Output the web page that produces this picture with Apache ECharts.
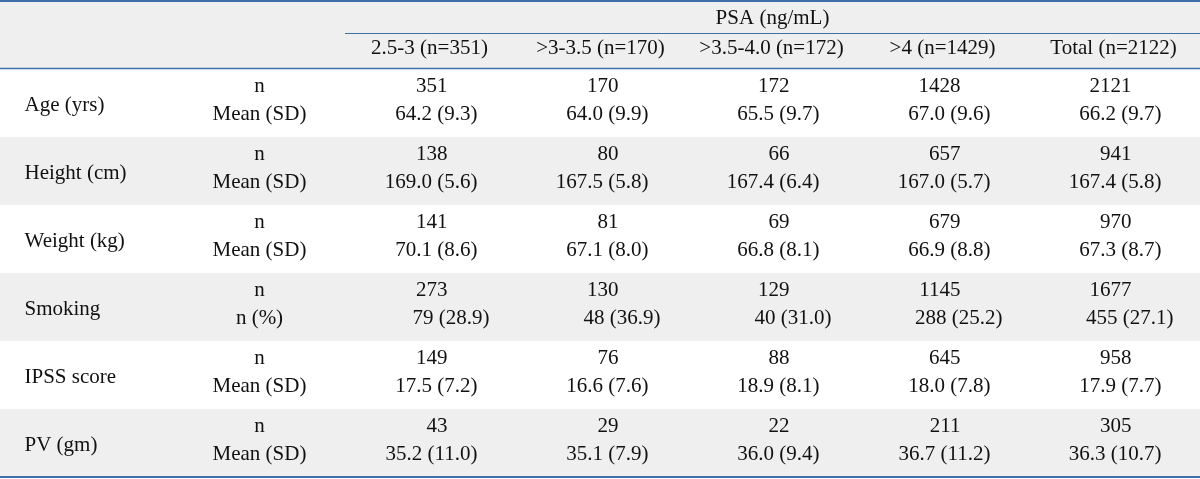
<!DOCTYPE html>
<html>
<head>
<meta charset="utf-8">
<script src="https://cdn.jsdelivr.net/npm/echarts@6/dist/echarts.min.js"></script>
<style>html,body{margin:0;padding:0;background:#fff}#c{width:1200px;height:479px}</style>
</head>
<body>
<div id="c"></div>
<script>
// ---- Table content ----
const groupTitle = 'PSA (ng/mL)';
const psaGroups = ['2.5-3 (n=351)', '>3-3.5 (n=170)', '>3.5-4.0 (n=172)', '>4 (n=1429)', 'Total (n=2122)'];
const variables = ['Age (yrs)', 'Height (cm)', 'Weight (kg)', 'Smoking', 'IPSS score', 'PV (gm)'];
const countLabels = ['n', 'n', 'n', 'n', 'n', 'n'];
const statLabels = ['Mean (SD)', 'Mean (SD)', 'Mean (SD)', 'n (%)', 'Mean (SD)', 'Mean (SD)'];

const ageN = [351, 170, 172, 1428, 2121];
const ageMean = [64.2, 64.0, 65.5, 67.0, 66.2];
const ageSD = [9.3, 9.9, 9.7, 9.6, 9.7];

const heightN = [138, 80, 66, 657, 941];
const heightMean = [169.0, 167.5, 167.4, 167.0, 167.4];
const heightSD = [5.6, 5.8, 6.4, 5.7, 5.8];

const weightN = [141, 81, 69, 679, 970];
const weightMean = [70.1, 67.1, 66.8, 66.9, 67.3];
const weightSD = [8.6, 8.0, 8.1, 8.8, 8.7];

const smokingN = [273, 130, 129, 1145, 1677];
const smokingCount = [79, 48, 40, 288, 455];
const smokingPct = [28.9, 36.9, 31.0, 25.2, 27.1];

const ipssN = [149, 76, 88, 645, 958];
const ipssMean = [17.5, 16.6, 18.9, 18.0, 17.9];
const ipssSD = [7.2, 7.6, 8.1, 7.8, 7.7];

const pvN = [43, 29, 22, 211, 305];
const pvMean = [35.2, 35.1, 36.0, 36.7, 36.3];
const pvSD = [11.0, 7.9, 9.4, 11.2, 10.7];

// ---- Build table structures ----
const nRows = [ageN, heightN, weightN, smokingN, ipssN, pvN];
const mainRows = [ageMean, heightMean, weightMean, smokingCount, ipssMean, pvMean];
const spreadRows = [ageSD, heightSD, weightSD, smokingPct, ipssSD, pvSD];
const mainDecimals = [1, 1, 1, 0, 1, 1];

const xCats = ['variable', 'statistic'].concat(psaGroups);
const yCats = ['title', 'groups'];
variables.forEach((v, i) => { yCats.push(v + ' n'); yCats.push(v + ' stat'); });

const FONT = '21px "Liberation Serif", "DejaVu Serif", serif';
const TXT = '#111111';
const RULE = '#3f6fa9';
const SHADE = '#efefef';

function textSeries(name, data, dx, dy, align) {
  return {
    name: name, type: 'custom', z: 5, silent: true, clip: false,
    data: data,
    renderItem: function (params, api) {
      const c = api.coord([api.value(0), api.value(1)]);
      return {
        type: 'text',
        x: c[0] + dx, y: c[1] + dy,
        style: {
          text: data[params.dataIndex].name,
          fill: TXT, font: FONT,
          align: align || 'center', verticalAlign: 'middle'
        }
      };
    }
  };
}

const titleData = [{ name: groupTitle, value: [4, 0] }];
const groupData = psaGroups.map((g, j) => ({ name: g, value: [j + 2, 1] }));
const varData = variables.map((v, i) => ({ name: v, value: [0, 2 + 2 * i] }));
const nLabelData = [], statLabelData = [], nData = [], statData = [], pctData = [];
variables.forEach((v, i) => {
  nLabelData.push({ name: countLabels[i], value: [1, 2 + 2 * i] });
  statLabelData.push({ name: statLabels[i], value: [1, 3 + 2 * i] });
  psaGroups.forEach((g, j) => {
    nData.push({ name: String(nRows[i][j]), value: [j + 2, 2 + 2 * i] });
    const item = {
      name: mainRows[i][j].toFixed(mainDecimals[i]) + ' (' + spreadRows[i][j].toFixed(1) + ')',
      value: [j + 2, 3 + 2 * i]
    };
    (mainDecimals[i] === 0 ? pctData : statData).push(item);
  });
});

// shaded bands: header (rows 0-1) and every second variable band
const shadeData = [[0, 0, 2]];
variables.forEach((v, i) => { if (i % 2 === 1) shadeData.push([0, 2 + 2 * i, 2]); });

// horizontal rules: [start column, row whose top edge it sits on, kind]
const ruleData = [[0, 0, 0], [2, 1, 1], [0, 2, 2], [0, 13, 3]];
const ruleWidths = [2, 1.2, 1.5, 2];

const chart = echarts.init(document.getElementById('c'), null, { renderer: 'canvas' });
chart.setOption({
  animation: false,
  backgroundColor: '#ffffff',
  grid: { left: -3, right: 3, top: 1, bottom: 2, containLabel: false },
  xAxis: { type: 'category', data: xCats, show: false, boundaryGap: true },
  yAxis: { type: 'category', data: yCats, show: false, inverse: true, boundaryGap: true },
  series: [
    {
      type: 'custom', name: 'bands', z: 1, silent: true, clip: false,
      data: shadeData,
      renderItem: function (params, api) {
        const c = api.coord([api.value(0), api.value(1)]);
        const h = api.size([1, 1])[1];
        return {
          type: 'rect',
          shape: { x: 0, y: c[1] - h / 2, width: api.getWidth(), height: h * api.value(2) },
          style: { fill: SHADE }
        };
      }
    },
    {
      type: 'custom', name: 'rules', z: 3, silent: true, clip: false,
      data: ruleData,
      renderItem: function (params, api) {
        const kind = api.value(2);
        const c = api.coord([api.value(0), api.value(1)]);
        const s = api.size([1, 1]);
        let y = c[1] - s[1] / 2;
        if (kind === 3) y = c[1] + s[1] / 2;
        if (kind === 1) y -= 1.5;
        if (kind === 2) y -= 0.5;
        const x0 = api.value(0) === 0 ? 0 : c[0] - s[0] / 2 + 3;
        return {
          type: 'line',
          shape: { x1: x0, y1: y, x2: api.getWidth(), y2: y },
          style: { stroke: RULE, lineWidth: ruleWidths[kind] }
        };
      }
    },
    textSeries('title', titleData, 3, 0),
    textSeries('groups', groupData, 2, -3.5),
    textSeries('variables', varData, -61, 19, 'left'),
    textSeries('countLabels', nLabelData, 3, 0),
    textSeries('statLabels', statLabelData, 3, -6),
    textSeries('counts', nData, 20, 0, 'right'),
    textSeries('stats', statData, 50, -6, 'right'),
    textSeries('percents', pctData, 62, -6, 'right')
  ]
});
</script>
</body>
</html>
